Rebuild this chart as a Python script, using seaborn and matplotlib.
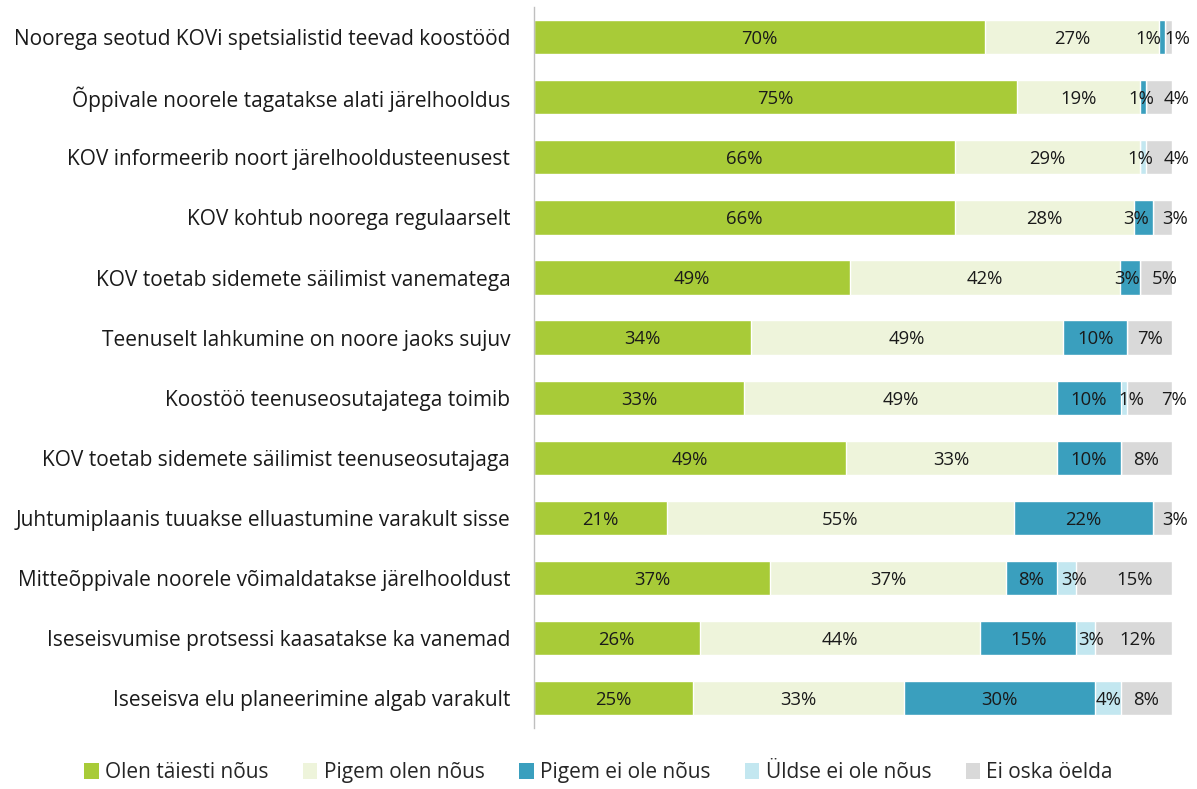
import matplotlib
matplotlib.use("Agg")
import matplotlib.pyplot as plt
from matplotlib.patches import Patch
import numpy as np
import pandas as pd
import seaborn as sns

statements = [
    "Noorega seotud KOVi spetsialistid teevad koostööd",
    "Õppivale noorele tagatakse alati järelhooldus",
    "KOV informeerib noort järelhooldusteenusest",
    "KOV kohtub noorega regulaarselt",
    "KOV toetab sidemete säilimist vanematega",
    "Teenuselt lahkumine on noore jaoks sujuv",
    "Koostöö teenuseosutajatega toimib",
    "KOV toetab sidemete säilimist teenuseosutajaga",
    "Juhtumiplaanis tuuakse elluastumine varakult sisse",
    "Mitteõppivale noorele võimaldatakse järelhooldust",
    "Iseseisvumise protsessi kaasatakse ka vanemad",
    "Iseseisva elu planeerimine algab varakult",
]

answers = ["Olen täiesti nõus", "Pigem olen nõus", "Pigem ei ole nõus",
           "Üldse ei ole nõus", "Ei oska öelda"]

olen_taiesti = [70, 75, 66, 66, 49, 34, 33, 49, 21, 37, 26, 25]
pigem_olen = [27, 19, 29, 28, 42, 49, 49, 33, 55, 37, 44, 33]
pigem_ei = [1, 1, 0, 3, 3, 10, 10, 10, 22, 8, 15, 30]
uldse_ei = [0, 0, 1, 0, 0, 0, 1, 0, 0, 3, 3, 4]
ei_oska = [1, 4, 4, 3, 5, 7, 7, 8, 3, 15, 12, 8]

colors = ["#A8CB38", "#EEF4DB", "#3A9FBE", "#C3E7F0", "#D9D9D9"]

# horizontal nudges (in % of bar length) for crowded labels of thin segments
label_nudge = {
    (0, 2): -2.2, (0, 4): 1.3,
    (1, 2): -0.3, (1, 4): 2.7,
    (2, 3): -0.5, (2, 4): 2.7,
    (3, 2): -1.1, (3, 4): 2.0,
    (4, 2): -0.5, (4, 4): 1.4,
    (6, 3): 1.1, (6, 4): 3.8,
    (8, 4): 2.0,
    (9, 3): 1.1, (9, 4): 1.6,
    (10, 3): 0.8, (10, 4): 0.6,
}

series = [olen_taiesti, pigem_olen, pigem_ei, uldse_ei, ei_oska]
df = pd.DataFrame({a: s for a, s in zip(answers, series)})

# 100% stacked: each row is scaled to its own total
shares = df[answers].div(df[answers].sum(axis=1), axis=0) * 100
cum = shares.cumsum(axis=1)
cum["Väide"] = statements

sns.set_theme(style="white")
plt.rcParams["font.family"] = ["Open Sans", "DejaVu Sans"]

fig = plt.figure(figsize=(11.97, 7.89), dpi=100)
ax = fig.add_axes([0.446, 0.077, 0.533, 0.914])

# stacked bars: draw cumulative totals from the widest down
for ans, col in reversed(list(zip(answers, colors))):
    sns.barplot(data=cum, x=ans, y="Väide", color=col, width=0.57,
                edgecolor="white", linewidth=1, saturation=1, ax=ax)

# value labels, centred on their segments
for i in range(len(statements)):
    left = 0
    for j, ans in enumerate(answers):
        v = df[ans].iloc[i]
        w = shares[ans].iloc[i]
        if v > 0:
            x = left + w / 2 + label_nudge.get((i, j), 0)
            ax.text(x, i + 0.03, f"{v}%", ha="center", va="center",
                    fontsize=13.3, color="#1a1a1a", clip_on=False)
        left += w

ax.set_xlim(0, 100)
ax.set_ylim(len(statements) - 0.5, -0.5)
ax.set_xlabel("")
ax.set_ylabel("")
ax.set_xticks([])
ax.tick_params(axis="y", length=0, pad=17, labelsize=15, labelcolor="#1a1a1a")
for s in ["top", "right", "bottom"]:
    ax.spines[s].set_visible(False)
ax.spines["left"].set_color("#BFBFBF")
ax.spines["left"].set_linewidth(1)

handles = [Patch(facecolor=c, edgecolor="none", label=a) for a, c in zip(answers, colors)]
fig.legend(handles=handles, loc="lower center", bbox_to_anchor=(0.5, -0.016), ncol=5,
           frameon=False, fontsize=15, handlelength=0.7, handleheight=0.8,
           handletextpad=0.3, columnspacing=1.65)

fig.savefig("out.png", dpi=100)
